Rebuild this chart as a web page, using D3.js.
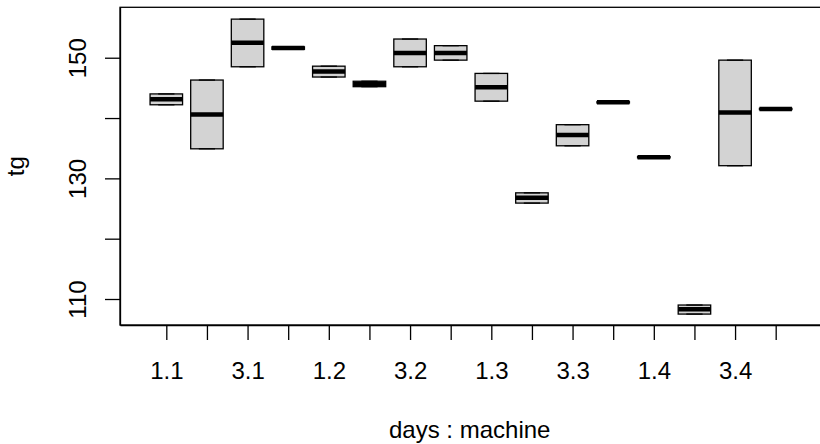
<!DOCTYPE html>
<html lang="en">
<head>
    <meta charset="UTF-8">
    <title>tg by days : machine</title>
    <script src="https://d3js.org/d3.v7.min.js"></script>
    <style>
        body {
            margin: 0;
            background: #fff;
        }
        svg text {
            font-family: "Liberation Sans", Arial, Helvetica, sans-serif;
            font-size: 24px;
            fill: #000;
        }
        .box rect {
            fill: #d3d3d3;
            stroke: #000;
            stroke-width: 1.3px;
        }
        .box .med {
            stroke: #000;
            stroke-width: 4.5px;
        }
        .box .staple {
            stroke: #000;
            stroke-width: 1.3px;
        }
    </style>
</head>
<body>
<script>
    // groups in order of days.machine interaction
    const groups = ["1.1", "2.1", "3.1", "4.1", "1.2", "2.2", "3.2", "4.2",
                    "1.3", "2.3", "3.3", "4.3", "1.4", "2.4", "3.4", "4.4"];
    // R drops every other label when they would overlap
    const shownLabels = ["1.1", "3.1", "1.2", "3.2", "1.3", "3.3", "1.4", "3.4"];

    // two obs per cell, so whisker ends sit on the hinges
    const lower  = [142.2, 134.9, 148.5, 151.4, 146.8, 145.2, 148.5, 149.6,
                    142.8, 125.9, 135.4, 142.5, 133.4, 107.5, 132.1, 141.4];
    const q1     = [142.2, 134.9, 148.5, 151.4, 146.8, 145.2, 148.5, 149.6,
                    142.8, 125.9, 135.4, 142.5, 133.4, 107.5, 132.1, 141.4];
    const median = [143.1, 140.6, 152.5, 151.6, 147.7, 145.65, 150.8, 150.8,
                    145.1, 126.8, 137.2, 142.6, 133.5, 108.3, 140.9, 141.5];
    const q3     = [144.0, 146.3, 156.4, 151.8, 148.6, 146.1, 153.1, 152.0,
                    147.4, 127.6, 138.9, 142.7, 133.6, 109.0, 149.6, 141.6];
    const upper  = [144.0, 146.3, 156.4, 151.8, 148.6, 146.1, 153.1, 152.0,
                    147.4, 127.6, 138.9, 142.7, 133.6, 109.0, 149.6, 141.6];

    const yTicks = [110, 120, 130, 140, 150];
    const yLabels = [110, 130, 150];

    const width = 820, height = 444;
    const plotL = 120, plotT = 7.3, plotB = 325, plotR = 822;

    const svg = d3.select("body").append("svg")
        .attr("width", width)
        .attr("height", height);

    const x = d3.scaleLinear().domain([-0.14, 17.14]).range([plotL, plotR]);
    const y = d3.scaleLinear().domain([105.69, 158.36]).range([plotB, plotT]);
    const boxW = x(0.8) - x(0);

    const data = groups.map((g, i) => ({
        g, pos: i + 1,
        lo: lower[i], q1: q1[i], med: median[i], q3: q3[i], hi: upper[i]
    }));

    const box = svg.selectAll(".box")
        .data(data)
        .enter().append("g")
        .attr("class", "box");

    box.append("rect")
        .attr("x", d => x(d.pos) - boxW / 2)
        .attr("width", boxW)
        .attr("y", d => y(d.q3))
        .attr("height", d => y(d.q1) - y(d.q3));

    box.append("line")
        .attr("class", "med")
        .attr("x1", d => x(d.pos) - boxW / 2)
        .attr("x2", d => x(d.pos) + boxW / 2)
        .attr("y1", d => y(d.med))
        .attr("y2", d => y(d.med));

    // staples at whisker ends (half box width)
    ["lo", "hi"].forEach(k => {
        box.append("line")
            .attr("class", "staple")
            .attr("x1", d => x(d.pos) - boxW / 4)
            .attr("x2", d => x(d.pos) + boxW / 4)
            .attr("y1", d => y(d[k]))
            .attr("y2", d => y(d[k]));
    });

    // plot frame
    svg.append("rect")
        .attr("x", plotL)
        .attr("y", plotT)
        .attr("width", plotR - plotL)
        .attr("height", plotB - plotT)
        .attr("fill", "none")
        .attr("stroke", "#000")
        .attr("stroke-width", 1.3);

    const xAxis = svg.append("g")
        .attr("transform", `translate(0,${plotB})`)
        .call(d3.axisBottom(x)
            .tickValues(d3.range(1, groups.length + 1))
            .tickFormat(p => shownLabels.includes(groups[p - 1]) ? groups[p - 1] : "")
            .tickSize(15)
            .tickSizeOuter(0));
    xAxis.select(".domain").attr("stroke-width", 1.3);
    xAxis.selectAll(".tick line").attr("stroke-width", 1.3);
    xAxis.selectAll(".tick text")
        .attr("y", 54)
        .attr("dy", 0)
        .style("font-size", "24px");

    const yAxis = svg.append("g")
        .attr("transform", `translate(${plotL},0)`)
        .call(d3.axisLeft(y)
            .tickValues(yTicks)
            .tickFormat(v => yLabels.includes(v) ? v : "")
            .tickSize(15)
            .tickSizeOuter(0));
    yAxis.select(".domain").attr("stroke-width", 1.3);
    yAxis.selectAll(".tick line").attr("stroke-width", 1.3);
    yAxis.selectAll(".tick text")
        .attr("x", 0)
        .attr("dy", 0)
        .attr("text-anchor", "middle")
        .attr("transform", "translate(-34,0) rotate(-90)")
        .style("font-size", "24px");

    svg.append("text")
        .attr("x", 389)
        .attr("y", 438)
        .text("days : machine");

    svg.append("text")
        .attr("transform", `translate(24,${(plotT + plotB) / 2}) rotate(-90)`)
        .attr("text-anchor", "middle")
        .text("tg");
</script>
</body>
</html>
